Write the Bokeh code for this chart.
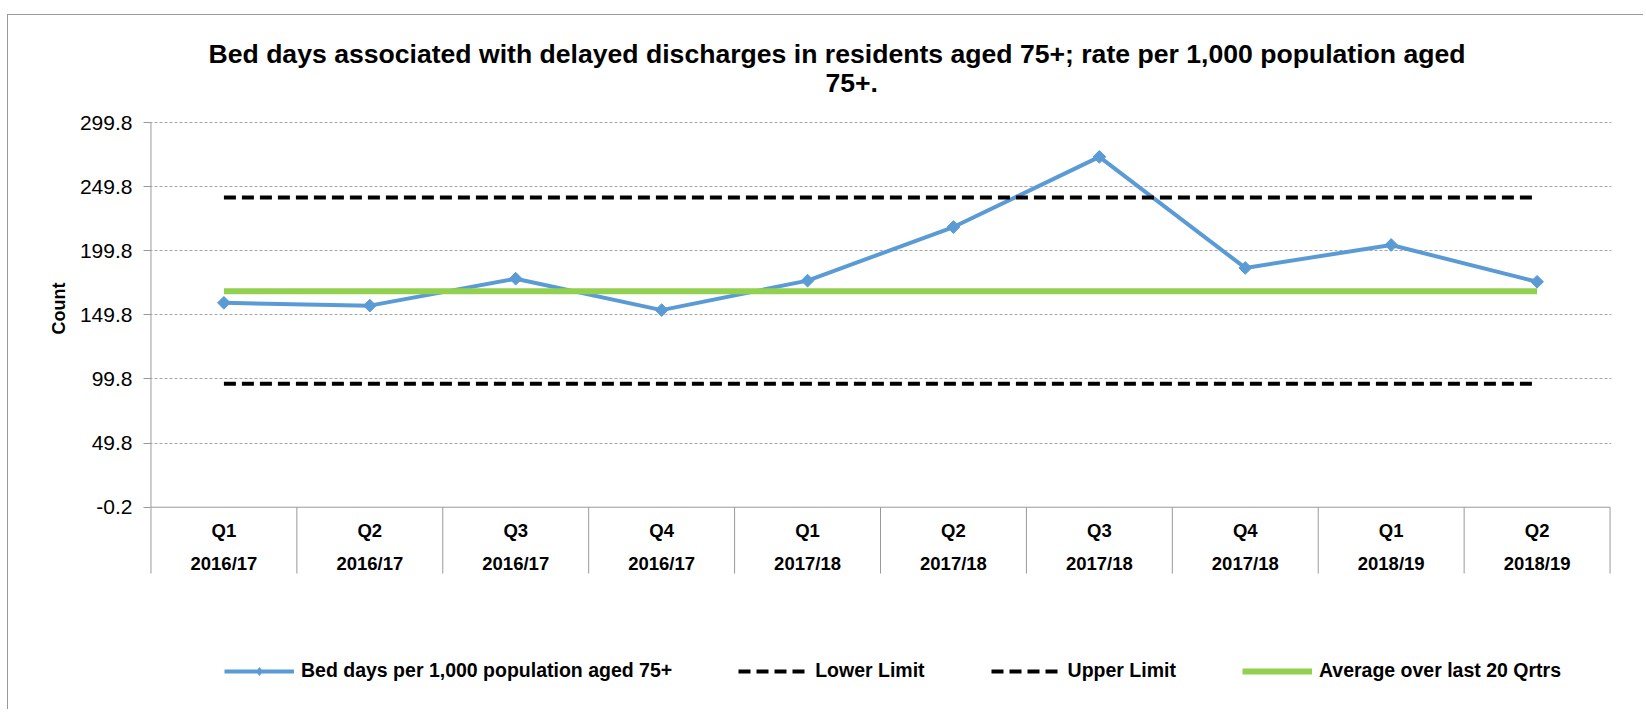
import math
from bokeh.plotting import figure
from bokeh.models import Range1d, FixedTicker, Title, Legend, LegendItem
from bokeh.core.properties import value
from bokeh.embed import file_html
from bokeh.resources import INLINE

# ---------------- data ----------------
quarters = ["Q1", "Q2", "Q3", "Q4", "Q1", "Q2", "Q3", "Q4", "Q1", "Q2"]
years = ["2016/17", "2016/17", "2016/17", "2016/17", "2017/18",
         "2017/18", "2017/18", "2017/18", "2018/19", "2018/19"]
bed_days = [159.2, 157.0, 178.0, 153.5, 176.5, 218.3, 273.0, 186.4, 204.3, 175.6]
lower_limit = [96.0, 96.0, 96.0, 96.0, 96.0, 96.0, 96.0, 96.0, 96.0, 96.0]
upper_limit = [241.3, 241.3, 241.3, 241.3, 241.3, 241.3, 241.3, 241.3, 241.3, 241.3]
average = [168.2, 168.2, 168.2, 168.2, 168.2, 168.2, 168.2, 168.2, 168.2, 168.2]
y_ticks = [-0.2, 49.8, 99.8, 149.8, 199.8, 249.8, 299.8]

title_line1 = "Bed days associated with delayed discharges in residents aged 75+; rate per 1,000 population aged"
title_line2 = "75+."
y_label = "Count"
legend_labels = ["Bed days per 1,000 population aged 75+", "Lower Limit",
                 "Upper Limit", "Average over last 20 Qrtrs"]

FONT = "Liberation Sans"
BLUE = "#5B9BD5"
GREEN = "#92D050"
GRID = "#A6A6A6"
AXIS = "#9A9A9A"

n = len(quarters)
x = [i + 1 for i in range(n)]

# table layout (y values in data units below the plot area)
TABLE_BOTTOM = y_ticks[0] - 51.7
Q_ROW = y_ticks[0] - 17.9
YEAR_ROW = y_ticks[0] - 43.9

p = figure(width=1636, height=695,
           x_range=Range1d(0.49, 10.51), y_range=Range1d(-154.8, 300.58),
           output_backend="svg", toolbar_location=None, title=None,
           x_axis_location=None,
           min_border_left=141, min_border_right=33,
           min_border_top=106, min_border_bottom=5,
           outline_line_color=None,
           margin=(14, 0, 0, 7),
           styles={"border-left": "1px solid #9A9A9A", "border-top": "1px solid #9A9A9A"})

# y axis
p.yaxis.ticker = FixedTicker(ticks=y_ticks)
p.yaxis.major_label_overrides = {t: f"{t:.1f}" for t in y_ticks}
p.yaxis.axis_line_color = None
p.yaxis.major_tick_out = 6
p.yaxis.major_tick_in = 1
p.yaxis.major_tick_line_color = AXIS
p.yaxis.minor_tick_line_color = None
p.yaxis.major_label_text_font = FONT
p.yaxis.major_label_text_font_size = "21px"
p.yaxis.major_label_text_color = "#000000"
p.yaxis.major_label_standoff = 11

# y axis title placed next to the plotting area (not the table)
p.add_layout(Title(text=y_label, align="right", offset=161, standoff=14,
                   vertical_align="middle",
                   text_font=FONT, text_font_style="bold", text_font_size="18px",
                   text_color="#000000"), "left")

# grid
p.xgrid.grid_line_color = None
p.ygrid.ticker = FixedTicker(ticks=y_ticks[1:])
p.ygrid.grid_line_color = GRID
p.ygrid.grid_line_dash = "3 2"
p.ygrid.grid_line_width = 1

# y axis line and category table
p.segment(x0=[0.5], y0=[y_ticks[0]], x1=[0.5], y1=[y_ticks[-1]], line_color=AXIS, line_width=1)
p.segment(x0=[0.5], y0=[y_ticks[0]], x1=[n + 0.5], y1=[y_ticks[0]], line_color=AXIS, line_width=1)
seps = [i + 0.5 for i in range(n + 1)]
p.segment(x0=seps, y0=[y_ticks[0]] * len(seps), x1=seps, y1=[TABLE_BOTTOM] * len(seps),
          line_color=AXIS, line_width=1)
p.text(x=x, y=[Q_ROW] * n, text=quarters, text_align="center", text_baseline="middle",
       text_font=value(FONT), text_font_style="bold", text_font_size="18.5px", text_color="#000000")
p.text(x=x, y=[YEAR_ROW] * n, text=years, text_align="center", text_baseline="middle",
       text_font=value(FONT), text_font_style="bold", text_font_size="18.5px", text_color="#000000")

# series
r_bed = p.line(x, bed_days, line_color=BLUE, line_width=4)
p.scatter(x, bed_days, marker="square", angle=math.pi / 4, size=9,
          fill_color=BLUE, line_color=BLUE)
r_low = p.line(x, lower_limit, line_color="black", line_width=4, line_dash="12 6")
r_up = p.line(x, upper_limit, line_color="black", line_width=4, line_dash="12 6")
r_avg = p.line(x, average, line_color=GREEN, line_width=6)

# legend-only diamond marker (no points drawn in the plot)
r_leg_marker = p.scatter([float("nan")], [float("nan")], marker="diamond", size=12,
                         fill_color=BLUE, line_color=BLUE)

legend = Legend(items=[
    LegendItem(label=legend_labels[0], renderers=[r_bed, r_leg_marker]),
    LegendItem(label=legend_labels[1], renderers=[r_low]),
    LegendItem(label=legend_labels[2], renderers=[r_up]),
    LegendItem(label=legend_labels[3], renderers=[r_avg]),
], orientation="horizontal", location=(75, 23), glyph_width=70, glyph_height=20,
    label_standoff=7, spacing=66, padding=0, margin=0,
    border_line_color=None, background_fill_alpha=0,
    label_text_font=FONT, label_text_font_style="bold", label_text_font_size="19.5px",
    label_text_color="#000000")
p.add_layout(legend)

# titles (later added sits farther from the plot)
p.add_layout(Title(text=title_line2, align="left", offset=676, standoff=58.8,
                   text_font=FONT, text_font_style="bold", text_font_size="26.6px",
                   text_color="#000000"), "above")
p.add_layout(Title(text=title_line1, align="left", offset=59, standoff=-53.8,
                   text_font=FONT, text_font_style="bold", text_font_size="26.6px",
                   text_color="#000000"), "above")

open("out.html", "w").write(file_html(p, INLINE))
